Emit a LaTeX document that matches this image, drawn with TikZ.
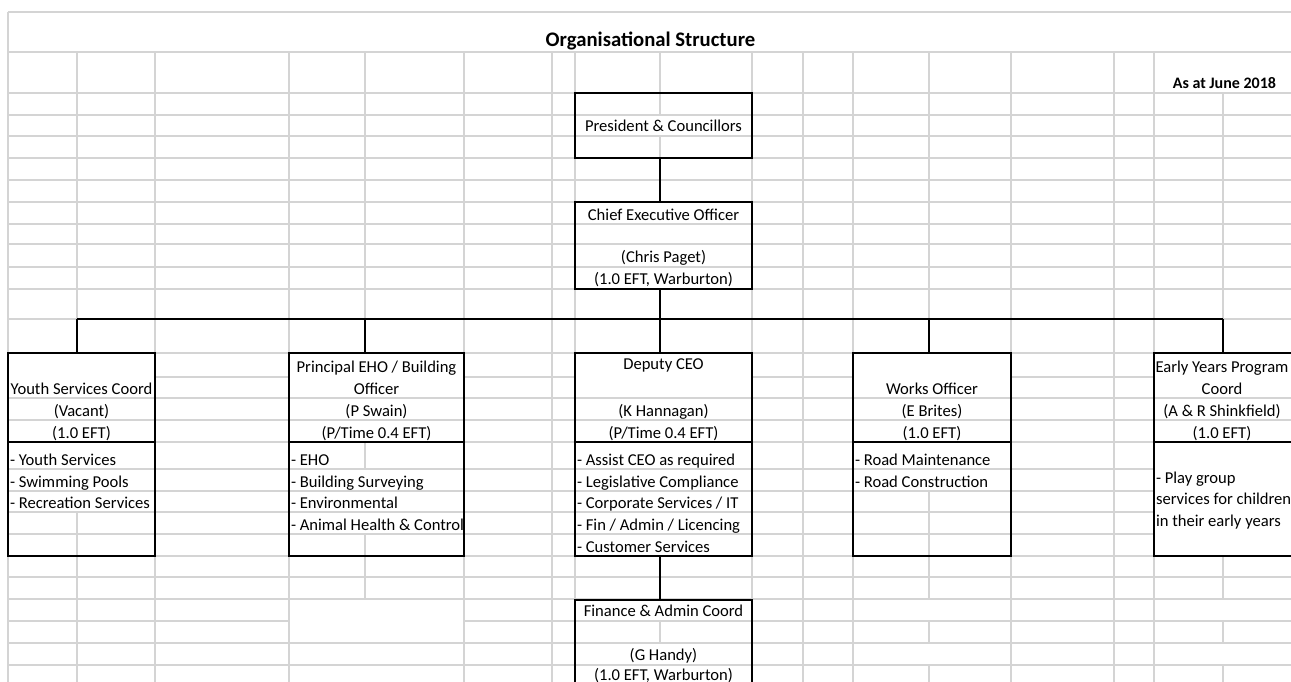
\documentclass[tikz,border=0pt]{standalone}
\usepackage{fontspec}
\setmainfont{Carlito}
\definecolor{gridgray}{RGB}{212,212,212}
\begin{document}
\begin{tikzpicture}[x=1pt,y=-1pt,
  gl/.style={draw=gridgray,line width=1.3pt},
  box/.style={draw=black,line width=1.8pt,inner sep=0pt,outer sep=0pt,rectangle},
  conn/.style={draw=black,line width=1.8pt},
  txt/.style={inner sep=0pt,outer sep=0pt,anchor=base,font=\fontsize{16.6}{19}\selectfont},
  ltxt/.style={txt,anchor=base west},
  btxt/.style={txt,font=\fontsize{16}{19}\selectfont\bfseries},
  ttl/.style={txt,font=\fontsize{20.7}{24}\selectfont\bfseries}]
\useasboundingbox (0,0) rectangle (1291,682);
\clip (0,0) rectangle (1291,682);
% ---------- gridlines: horizontal ----------
\draw[gl] (8,12) -- (1291,12);
\foreach \y in {52,93,115,136,158,180,202,224,244,267,289,319,353,398,420,442,556,577,599,643,665}
  \draw[gl] (8,\y) -- (1291,\y);
\foreach \a/\b in {155/289,464/575,752/853,1011/1154}
  \draw[gl] (\a,377) -- (\b,377);
\foreach \y in {469,491,512,534}
  \draw[gl] (8,\y) -- (1154,\y);
\draw[gl] (8,621) -- (289,621);
\draw[gl] (464,621) -- (1291,621);
% ---------- gridlines: vertical ----------
\draw[gl] (8,12) -- (8,682);
\foreach \x in {155,289,464,552,575,752,803,853,1011,1114,1154}
  \draw[gl] (\x,52) -- (\x,682);
\foreach \x/\a/\b in {77/52/353,77/512/682,
  365/52/353,365/442/469,365/534/599,
  660/52/115,660/136/158,660/621/643,
  929/52/353,929/491/599,929/621/643,929/665/682,
  1223/93/353,1223/556/599,1223/621/643,1223/665/682}
  \draw[gl] (\x,\a) -- (\x,\b);
% ---------- boxes ----------
\node[box,minimum width=177pt,minimum height=65pt] (pres) at (663.5,125.5) {};
\node[box,minimum width=177pt,minimum height=87pt] (ceo) at (663.5,245.5) {};
\node[box,minimum width=147pt,minimum height=203pt] (youth) at (81.5,454.5) {};
\node[box,minimum width=175pt,minimum height=203pt] (eho) at (376.5,454.5) {};
\node[box,minimum width=177pt,minimum height=203pt] (dep) at (663.5,454.5) {};
\node[box,minimum width=158pt,minimum height=203pt] (works) at (932,454.5) {};
\node[box,minimum width=140pt,minimum height=203pt] (early) at (1224,454.5) {};
\node[box,minimum width=177pt,minimum height=120pt] (fin) at (663.5,660) {};
% dividers inside the boxes
\foreach \n in {youth,eho,dep,works,early}
  \draw[conn] (\n.west |- 0,442) -- (\n.east |- 0,442);
% ---------- connectors ----------
\coordinate (cx) at (660,319);
\coordinate (busL) at (77,319);
\coordinate (busR) at (1223,319);
\coordinate (bE) at (365,319);
\coordinate (bW) at (929,319);
\draw[conn] (pres.south -| cx) -- (ceo.north -| cx);
\draw[conn] (ceo.south -| cx) -- (dep.north -| cx);
\draw[conn] (busL) -- (busR);
\draw[conn] (busL) -- (busL |- youth.north);
\draw[conn] (bE) -- (bE |- eho.north);
\draw[conn] (bW) -- (bW |- works.north);
\draw[conn] (busR) -- (busR |- early.north);
\draw[conn] (dep.south -| cx) -- (fin.north -| cx);
% ---------- texts ----------
\node[ttl] (title) at (650.5,46.5) {Organisational Structure};
\node[btxt,anchor=base east] (date) at (1276,88.5) {As at June 2018};
\node[txt] (p1) at (663.5,132) {President \& Councillors};
\node[txt] (c1) at (663.5,220) {Chief Executive Officer};
\node[txt] (c2) at (663.5,262) {(Chris Paget)};
\node[txt] (c3) at (663.5,284) {(1.0 EFT, Warburton)};
% youth
\node[txt] (y1) at (81.5,394) {Youth Services Coord};
\node[txt] (y2) at (81.5,416) {(Vacant)};
\node[txt] (y3) at (81.5,438) {(1.0 EFT)};
\node[ltxt] (y4) at (10,465) {- Youth Services};
\node[ltxt] (y5) at (10,487) {- Swimming Pools};
\node[ltxt] (y6) at (10,508) {- Recreation Services};
% EHO
\node[txt] (e1) at (376.5,372) {Principal EHO / Building};
\node[txt] (e2) at (376.5,394) {Officer};
\node[txt] (e3) at (376.5,416) {(P Swain)};
\node[txt] (e4) at (376.5,438) {(P/Time 0.4 EFT)};
\node[ltxt] (e5) at (291,465) {- EHO};
\node[ltxt] (e6) at (291,487) {- Building Surveying};
\node[ltxt] (e7) at (291,508) {- Environmental};
\node[ltxt] (e8) at (291,530) {- Animal Health \& Control};
% deputy
\node[txt] (d1) at (663.5,369) {Deputy CEO};
\node[txt] (d2) at (663.5,416) {(K Hannagan)};
\node[txt] (d3) at (663.5,438) {(P/Time 0.4 EFT)};
\node[ltxt] (d4) at (577,465) {- Assist CEO as required};
\node[ltxt] (d5) at (577,487) {- Legislative Compliance};
\node[ltxt] (d6) at (577,508) {- Corporate Services / IT};
\node[ltxt] (d7) at (577,530) {- Fin / Admin / Licencing};
\node[ltxt] (d8) at (577,552) {- Customer Services};
% works
\node[txt] (w1) at (932,394) {Works Officer};
\node[txt] (w2) at (932,416) {(E Brites)};
\node[txt] (w3) at (932,438) {(1.0 EFT)};
\node[ltxt] (w4) at (855,465) {- Road Maintenance};
\node[ltxt] (w5) at (855,487) {- Road Construction};
% early years
\node[txt] (k1) at (1222,372) {Early Years Program};
\node[txt] (k2) at (1222,394) {Coord};
\node[txt] (k3) at (1222,416) {(A \& R Shinkfield)};
\node[txt] (k4) at (1222,438) {(1.0 EFT)};
\node[ltxt] (k5) at (1156,483) {- Play group};
\node[ltxt] (k6) at (1156,504) {services for children};
\node[ltxt] (k7) at (1156,526) {in their early years};
% finance
\node[txt] (f1) at (663.5,616) {Finance \& Admin Coord};
\node[txt] (f2) at (663.5,660) {(G Handy)};
\node[txt] (f3) at (663.5,680.5) {(1.0 EFT, Warburton)};
\end{tikzpicture}
\end{document}
